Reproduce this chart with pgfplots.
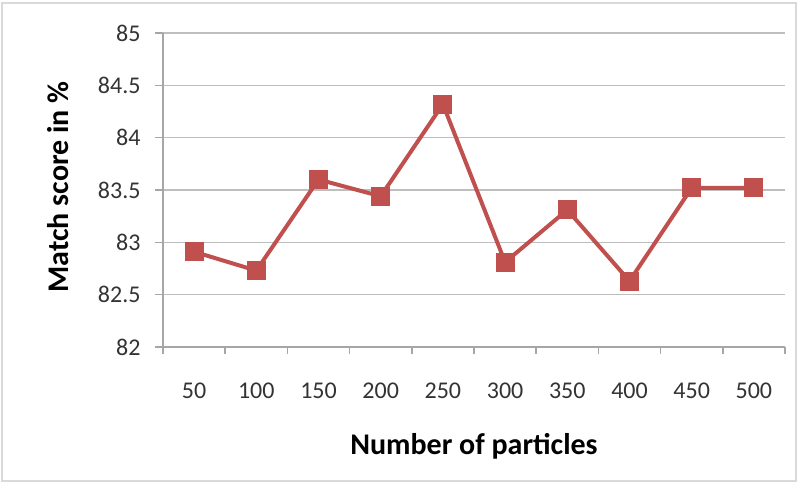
\documentclass[border=0pt]{standalone}
\usepackage{pgfplots}
\pgfplotsset{compat=1.18}
\usepackage{fontspec}
\setmainfont{Carlito}
\definecolor{excelred}{HTML}{C0504D}
\definecolor{gridgray}{HTML}{BEBEBE}
\definecolor{axisgray}{HTML}{A6A6A6}
\begin{document}
\begin{tikzpicture}
\useasboundingbox (0pt,0pt) rectangle (798pt,484pt);
\draw[gray!30, line width=2pt] (1.5pt,2.5pt) rectangle (796pt,481pt);
\begin{axis}[
    at={(163pt,137pt)}, anchor=south west,
    scale only axis,
    width=622pt, height=314pt,
    xmin=0.5, xmax=10.5,
    ymin=82, ymax=85,
    xtick={1,...,10},
    xticklabels={50,100,150,200,250,300,350,400,450,500},
    minor xtick={0.5,1.5,...,10.5},
    ytick={82,82.5,...,85},
    axis x line*=bottom,
    axis y line*=left,
    axis line style={axisgray, line width=1.5pt},
    tick align=outside,
    major tick length=8pt,
    minor tick length=7pt,
    major x tick style={draw=none},
    minor x tick style={axisgray, line width=1.5pt},
    major y tick style={axisgray, line width=1.5pt},
    ymajorgrids=true,
    major grid style={gridgray, line width=1.5pt},
    /pgf/number format/assume math mode=true,
    yticklabel style={/pgf/number format/fixed, font=\fontsize{24}{29}\selectfont, color=black!80, xshift=-11pt},
    xticklabel style={font=\fontsize{24}{29}\selectfont, color=black!80, yshift=-24pt},
    xlabel={Number of particles},
    ylabel={Match score in \%},
    label style={font=\bfseries\fontsize{30}{36}\selectfont},
    xlabel style={at={(axis description cs:0.5,-0.315)}, anchor=center},
    ylabel style={at={(axis description cs:-0.168,0.51)}, anchor=center, rotate=0},
    clip=false,
]
\addplot[color=excelred, line width=4pt, mark=square*, mark size=7.5pt, mark options={solid, fill=excelred}]
coordinates {
    (1,82.91)
    (2,82.73)
    (3,83.60)
    (4,83.44)
    (5,84.32)
    (6,82.81)
    (7,83.31)
    (8,82.63)
    (9,83.52)
    (10,83.52)
};
\end{axis}
\end{tikzpicture}
\end{document}
